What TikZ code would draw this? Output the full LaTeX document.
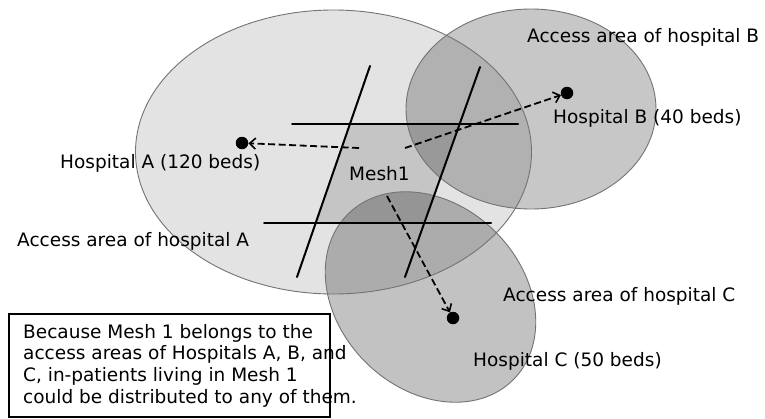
\documentclass[tikz,border=0pt]{standalone}
\usepackage{fontspec}
\setmainfont{DejaVu Sans}
\usetikzlibrary{arrows.meta}
\begin{document}
\begin{tikzpicture}[x=1pt,y=-1pt,
  area/.style={draw=black!55,line width=0.9pt},
  gridline/.style={line width=2pt,line cap=round},
  flow/.style={line width=1.8pt,dash pattern=on 7pt off 3.5pt,-{Straight Barb[length=6pt,width=11pt,line width=1.6pt]}},
  hosp/.style={circle,fill=black,minimum size=12.5pt,inner sep=0pt},
  lbl/.style={anchor=west,inner sep=0pt,font=\fontsize{18.5}{21.7}\selectfont}]
\useasboundingbox[fill=white] (0,0) rectangle (765,418);
% access areas
\fill[black,fill opacity=0.11] (333.5,152) ellipse [x radius=198, y radius=142];
% grid endpoints
\coordinate (t1) at (292,124); \coordinate (t2) at (518,124);
\coordinate (b1) at (264,223); \coordinate (b2) at (491,223);
\coordinate (l1) at (370,66);  \coordinate (l2) at (297,277);
\coordinate (r1) at (480,67);  \coordinate (r2) at (405,277);
% mesh cell
\fill[black,fill opacity=0.13] (intersection of t1--t2 and l1--l2) -- (intersection of t1--t2 and r1--r2)
  -- (intersection of b1--b2 and r1--r2) -- (intersection of b1--b2 and l1--l2) -- cycle;
\fill[black,fill opacity=0.22] (531,109) ellipse [x radius=125, y radius=100];
\fill[black,fill opacity=0.24,rotate around={-45:(430.5,297)}] (430.5,297) ellipse [x radius=117, y radius=92];
\draw[area] (333.5,152) ellipse [x radius=198, y radius=142];
\draw[area] (531,109) ellipse [x radius=125, y radius=100];
\draw[area,rotate around={-45:(430.5,297)}] (430.5,297) ellipse [x radius=117, y radius=92];
% grid lines
\draw[gridline] (t1) -- (t2);
\draw[gridline] (b1) -- (b2);
\draw[gridline] (l1) -- (l2);
\draw[gridline] (r1) -- (r2);
% hospitals
\node[hosp] (hA) at (242,143) {};
\node[hosp] (hB) at (567,93) {};
\node[hosp] (hC) at (453,318) {};
% flows
\coordinate (fA) at (359,148);
\coordinate (fB) at (405,148);
\coordinate (fC) at (387,196);
\draw[flow] (fA) -- (hA);
\draw[flow] (fB) -- (hB);
\draw[flow] (fC) -- (hC);
% labels
\node[lbl] (lhA) at (60,163) {Hospital A (120 beds)};
\node[lbl] (laA) at (17,241) {Access area of hospital A};
\node[lbl] (laB) at (527,37) {Access area of hospital B};
\node[lbl] (lhB) at (553,118) {Hospital B (40 beds)};
\node[lbl] (mesh) at (349,174) {Mesh1};
\node[lbl] (laC) at (503,296) {Access area of hospital C};
\node[lbl] (lhC) at (473,361) {Hospital C (50 beds)};
% note box
\draw[line width=1.5pt] (9,314) rectangle (330,417);
\node[lbl,align=left] (note) at (23,365.5) {Because Mesh 1 belongs to the\\access areas of Hospitals A, B, and\\C, in-patients living in Mesh 1\\could be distributed to any of them.};
\end{tikzpicture}
\end{document}
